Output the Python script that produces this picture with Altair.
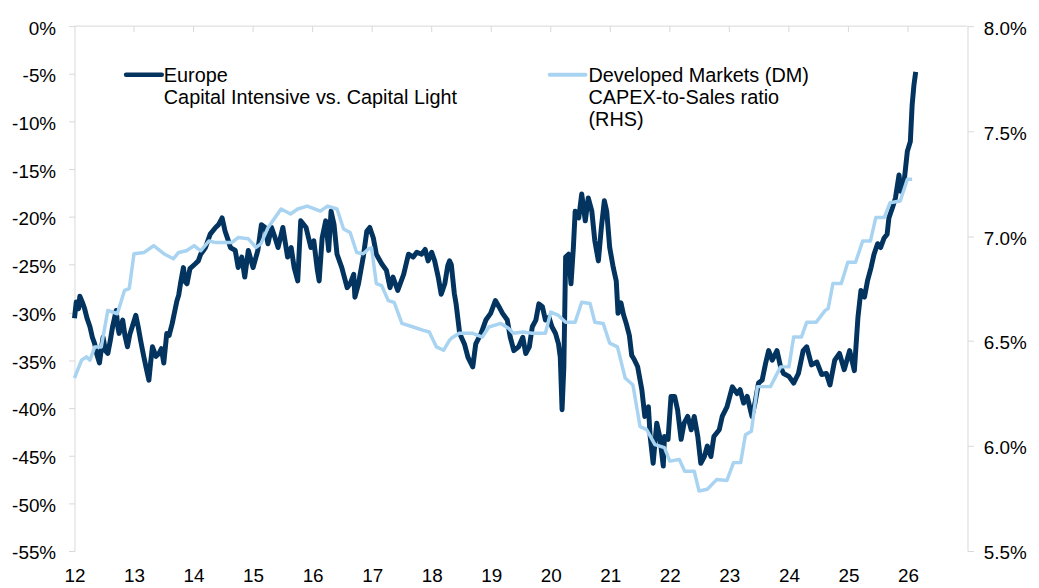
import altair as alt
import pandas as pd

# ---------------- data ----------------
dark_x = [12.00, 12.03, 12.07, 12.09, 12.13, 12.17, 12.21, 12.26, 12.30, 12.34, 12.38, 12.42, 12.45, 12.48,
          12.52, 12.56, 12.60, 12.64, 12.70, 12.73, 12.75, 12.81, 12.85, 12.89, 12.93, 12.97, 13.03, 13.07,
          13.11, 13.16, 13.20, 13.25, 13.28, 13.31, 13.37, 13.42, 13.46, 13.50, 13.55, 13.59, 13.64, 13.72,
          13.75, 13.78, 13.83, 13.86, 13.89, 13.94, 14.03, 14.08, 14.12, 14.20, 14.28, 14.37, 14.42, 14.48,
          14.53, 14.58, 14.62, 14.70, 14.75, 14.81, 14.86, 14.92, 14.96, 15.00, 15.08, 15.14, 15.20, 15.25,
          15.31, 15.36, 15.42, 15.50, 15.58, 15.64, 15.69, 15.75, 15.80, 15.89, 15.97, 16.02, 16.08, 16.11,
          16.16, 16.22, 16.27, 16.31, 16.36, 16.41, 16.49, 16.58, 16.63, 16.69, 16.71, 16.77, 16.85, 16.91,
          16.96, 17.02, 17.07, 17.16, 17.24, 17.30, 17.35, 17.43, 17.53, 17.61, 17.69, 17.75, 17.83, 17.89,
          17.94, 18.00, 18.05, 18.11, 18.16, 18.22, 18.27, 18.30, 18.33, 18.38, 18.41, 18.47, 18.55, 18.61,
          18.69, 18.74, 18.83, 18.91, 18.99, 19.07, 19.13, 19.19, 19.27, 19.32, 19.38, 19.46, 19.53, 19.58,
          19.64, 19.69, 19.75, 19.80, 19.86, 19.91, 19.97, 20.02, 20.08, 20.13, 20.16, 20.19, 20.22, 20.25,
          20.30, 20.34, 20.38, 20.41, 20.47, 20.52, 20.58, 20.63, 20.69, 20.74, 20.80, 20.85, 20.90, 20.94,
          20.99, 21.05, 21.10, 21.13, 21.18, 21.22, 21.27, 21.32, 21.36, 21.40, 21.46, 21.53, 21.58, 21.64,
          21.67, 21.72, 21.78, 21.83, 21.89, 21.91, 21.97, 22.02, 22.08, 22.13, 22.19, 22.24, 22.30, 22.36,
          22.41, 22.47, 22.52, 22.58, 22.63, 22.69, 22.74, 22.83, 22.88, 22.96, 23.05, 23.13, 23.18, 23.24,
          23.30, 23.38, 23.43, 23.49, 23.55, 23.61, 23.66, 23.72, 23.80, 23.86, 23.91, 24.00, 24.08, 24.16,
          24.24, 24.30, 24.38, 24.47, 24.55, 24.63, 24.69, 24.77, 24.85, 24.93, 25.02, 25.10, 25.16, 25.21,
          25.27, 25.32, 25.38, 25.43, 25.49, 25.54, 25.60, 25.65, 25.68, 25.74, 25.79, 25.85, 25.88, 25.93,
          25.99, 26.04, 26.07, 26.10, 26.13]
dark_y = [-30.6, -28.9, -29.6, -28.3, -28.9, -29.6, -30.6, -31.5, -32.6, -33.3, -34.5, -35.3, -33.9, -32.6,
          -34.0, -34.3, -33.0, -31.5, -29.8, -31.6, -32.2, -30.8, -32.5, -33.6, -32.3, -31.5, -30.3, -31.5,
          -32.9, -34.5, -35.7, -37.1, -35.2, -33.6, -34.6, -34.3, -33.8, -35.3, -32.2, -32.4, -31.2, -28.8,
          -28.2, -27.0, -25.3, -26.8, -27.0, -25.4, -24.9, -24.6, -23.9, -23.2, -21.8, -21.1, -20.8, -20.1,
          -21.5, -22.4, -23.2, -23.5, -25.3, -24.2, -26.3, -23.5, -24.4, -25.3, -23.5, -20.8, -21.1, -22.8,
          -21.1, -22.0, -23.2, -21.1, -24.2, -23.2, -25.3, -26.7, -20.4, -21.1, -23.2, -22.5, -25.6, -26.7,
          -22.2, -20.4, -23.5, -19.4, -20.8, -23.9, -25.3, -27.4, -27.0, -26.0, -28.4, -27.0, -24.2, -21.5,
          -21.1, -22.2, -23.9, -24.9, -25.6, -27.4, -26.3, -27.7, -26.0, -23.9, -24.2, -23.7, -23.9, -23.4,
          -24.6, -23.7, -24.6, -26.3, -28.1, -27.0, -25.1, -24.6, -25.0, -28.0, -29.1, -32.2, -33.3, -34.7,
          -35.7, -33.3, -32.2, -30.8, -30.1, -28.75, -29.4, -30.1, -30.8, -32.6, -34.0, -33.6, -32.6, -34.3,
          -33.6, -31.5, -30.8, -29.1, -29.4, -30.8, -30.5, -31.5, -32.2, -33.3, -34.7, -40.2, -35.7, -24.2,
          -23.9, -27.0, -23.2, -19.4, -20.1, -17.6, -20.4, -18.0, -19.4, -22.5, -24.6, -21.1, -18.3, -19.4,
          -23.2, -25.3, -26.7, -30.1, -29.0, -30.2, -31.2, -32.4, -34.5, -34.9, -35.7, -38.1, -40.9, -39.9,
          -43.0, -45.8, -41.6, -43.0, -46.1, -43.0, -43.3, -38.8, -38.8, -40.2, -43.3, -41.6, -40.9, -42.3,
          -40.9, -43.0, -45.8, -45.1, -44.0, -45.1, -43.0, -42.3, -40.9, -39.9, -37.8, -38.5, -38.1, -39.5,
          -38.8, -40.9, -39.5, -37.4, -37.1, -35.3, -34.0, -35.0, -34.0, -35.7, -36.4, -36.7, -37.4, -36.4,
          -34.0, -33.6, -35.5, -35.2, -36.5, -36.4, -37.6, -35.0, -34.3, -36.0, -34.0, -36.1, -30.5, -27.7,
          -28.4, -26.7, -25.3, -23.9, -22.8, -23.2, -22.2, -21.8, -20.1, -19.0, -18.0, -15.6, -17.3, -16.6,
          -13.1, -12.1, -8.3, -6.2, -4.8]

light_x = [12.00, 12.12, 12.20, 12.26, 12.34, 12.45, 12.56, 12.72, 12.84, 12.92, 13.00, 13.17, 13.33, 13.50,
           13.66, 13.75, 13.88, 14.01, 14.12, 14.26, 14.37, 14.64, 14.75, 14.92, 15.05, 15.13, 15.25, 15.47,
           15.63, 15.75, 15.91, 16.13, 16.25, 16.41, 16.52, 16.63, 16.74, 16.85, 16.94, 16.99, 17.07, 17.16,
           17.27, 17.37, 17.50, 17.69, 17.86, 17.96, 18.08, 18.20, 18.30, 18.33, 18.46, 18.69, 18.85, 18.96,
           19.16, 19.29, 19.37, 19.53, 19.69, 19.91, 20.00, 20.13, 20.25, 20.41, 20.52, 20.66, 20.74, 20.88,
           20.99, 21.12, 21.25, 21.38, 21.50, 21.61, 21.75, 21.91, 22.00, 22.16, 22.25, 22.41, 22.49, 22.63,
           22.79, 22.96, 23.07, 23.19, 23.27, 23.37, 23.47, 23.69, 23.86, 24.00, 24.08, 24.21, 24.30, 24.46,
           24.61, 24.66, 24.74, 24.88, 24.99, 25.12, 25.24, 25.37, 25.46, 25.60, 25.70, 25.87, 25.99, 26.07]
light_y = [6.324, 6.409, 6.425, 6.409, 6.472, 6.472, 6.646, 6.630, 6.741, 6.750, 6.916, 6.922, 6.954, 6.916,
           6.892, 6.922, 6.930, 6.954, 6.930, 6.977, 6.969, 6.969, 6.993, 6.987, 6.946, 6.963, 7.040, 7.129,
           7.105, 7.129, 7.143, 7.119, 7.143, 7.129, 7.034, 7.017, 6.922, 6.916, 6.939, 6.944, 6.774, 6.764,
           6.693, 6.684, 6.584, 6.567, 6.551, 6.543, 6.472, 6.456, 6.504, 6.513, 6.537, 6.537, 6.519, 6.567,
           6.584, 6.561, 6.537, 6.543, 6.537, 6.537, 6.638, 6.622, 6.590, 6.590, 6.685, 6.679, 6.590, 6.584,
           6.490, 6.472, 6.324, 6.291, 6.093, 6.078, 6.007, 5.992, 5.928, 5.936, 5.880, 5.880, 5.786, 5.794,
           5.841, 5.836, 5.921, 5.921, 6.054, 6.070, 6.283, 6.283, 6.377, 6.377, 6.519, 6.519, 6.590, 6.590,
           6.646, 6.655, 6.774, 6.774, 6.875, 6.875, 6.977, 6.977, 7.088, 7.088, 7.159, 7.167, 7.271, 7.271]

x_ticks = list(range(12, 27))
left_ticks = list(range(-55, 1, 5))
right_ticks = [5.5, 6.0, 6.5, 7.0, 7.5, 8.0]

legend_dark = ["Europe", "Capital Intensive vs. Capital Light"]
legend_light = ["Developed Markets (DM)", "CAPEX-to-Sales ratio", "(RHS)"]

# ---------------- styling ----------------
FONT = "Liberation Sans"
DARK = "#02345F"
LIGHT = "#A8D3F1"
GRAY = "#D9D9D9"
W, H = 900, 529
FS = 19
LFS = 20

df_dark = pd.DataFrame({"year": dark_x, "v": dark_y})
df_light = pd.DataFrame({"year": light_x, "v": light_y})
df_ticks = pd.DataFrame({"year": x_ticks[1:]})
one = pd.DataFrame({"a": [0]})

xscale = alt.Scale(domain=[12, 27], nice=False, zero=False)
xaxis = alt.Axis(orient="bottom", values=x_ticks, format="d", domain=False, ticks=False, tickSize=0,
                 grid=False, labelPadding=16, labelFontSize=FS, labelFont=FONT, labelColor="#000000",
                 labelFlush=False, labelOverlap=False, title=None)

left_axis = alt.Axis(orient="left", values=left_ticks, labelExpr="datum.value + '%'", grid=False,
                     domainColor=GRAY, tickColor=GRAY, tickSize=6, labelPadding=13, labelOffset=2,
                     labelFontSize=FS, labelFont=FONT, labelColor="#000000", title=None,
                     labelOverlap=False, labelFlush=False)
right_axis = alt.Axis(orient="right", values=right_ticks, labelExpr="format(datum.value, '.1f') + '%'",
                      grid=False, domainColor=GRAY, tickColor=GRAY, tickSize=6, labelPadding=10,
                      labelOffset=2, labelFontSize=FS, labelFont=FONT, labelColor="#000000", title=None,
                      labelOverlap=False, labelFlush=False)

X = alt.X("year:Q", scale=xscale, axis=xaxis)

dark = alt.Chart(df_dark).mark_line(color=DARK, strokeWidth=5, strokeJoin="round").encode(
    x=X,
    y=alt.Y("v:Q", scale=alt.Scale(domain=[-55, 0], nice=False, zero=False), axis=left_axis),
)
light = alt.Chart(df_light).mark_line(color=LIGHT, strokeWidth=3.5, strokeJoin="round").encode(
    x=X,
    y=alt.Y("v:Q", scale=alt.Scale(domain=[5.5, 8.0], nice=False, zero=False), axis=right_axis),
)

top_line = alt.Chart(one).mark_rule(color=GRAY, strokeWidth=1).encode(
    x=alt.value(0), x2=alt.value(W), y=alt.value(0))
top_ticks = alt.Chart(df_ticks).mark_rule(color=GRAY, strokeWidth=1).encode(
    x=X, y=alt.value(0), y2=alt.value(6))

leg = []
leg.append(alt.Chart(one).mark_rule(color=DARK, strokeWidth=4.5, strokeCap="round").encode(
    x=alt.value(52), x2=alt.value(88), y=alt.value(49)))
leg.append(alt.Chart(one).mark_rule(color=LIGHT, strokeWidth=4, strokeCap="round").encode(
    x=alt.value(479), x2=alt.value(515), y=alt.value(49)))
baselines = [56, 78, 101]
for i, t in enumerate(legend_dark):
    leg.append(alt.Chart(one).mark_text(align="left", baseline="alphabetic", font=FONT, fontSize=LFS,
                                        color="#000000").encode(
        x=alt.value(90), y=alt.value(baselines[i]), text=alt.value(t)))
for i, t in enumerate(legend_light):
    leg.append(alt.Chart(one).mark_text(align="left", baseline="alphabetic", font=FONT, fontSize=LFS,
                                        color="#000000").encode(
        x=alt.value(518), y=alt.value(baselines[i]), text=alt.value(t)))

chart = alt.layer(dark, light, top_line, top_ticks, *leg).resolve_scale(
    y="independent"
).properties(
    width=W, height=H,
    padding={"left": 67, "top": 16, "right": 64, "bottom": 33},
    autosize=alt.AutoSizeParams(type="none"),
    background="white",
).configure_view(stroke=None)

chart.save("out.html", embed_options={"renderer": "svg", "actions": False})
